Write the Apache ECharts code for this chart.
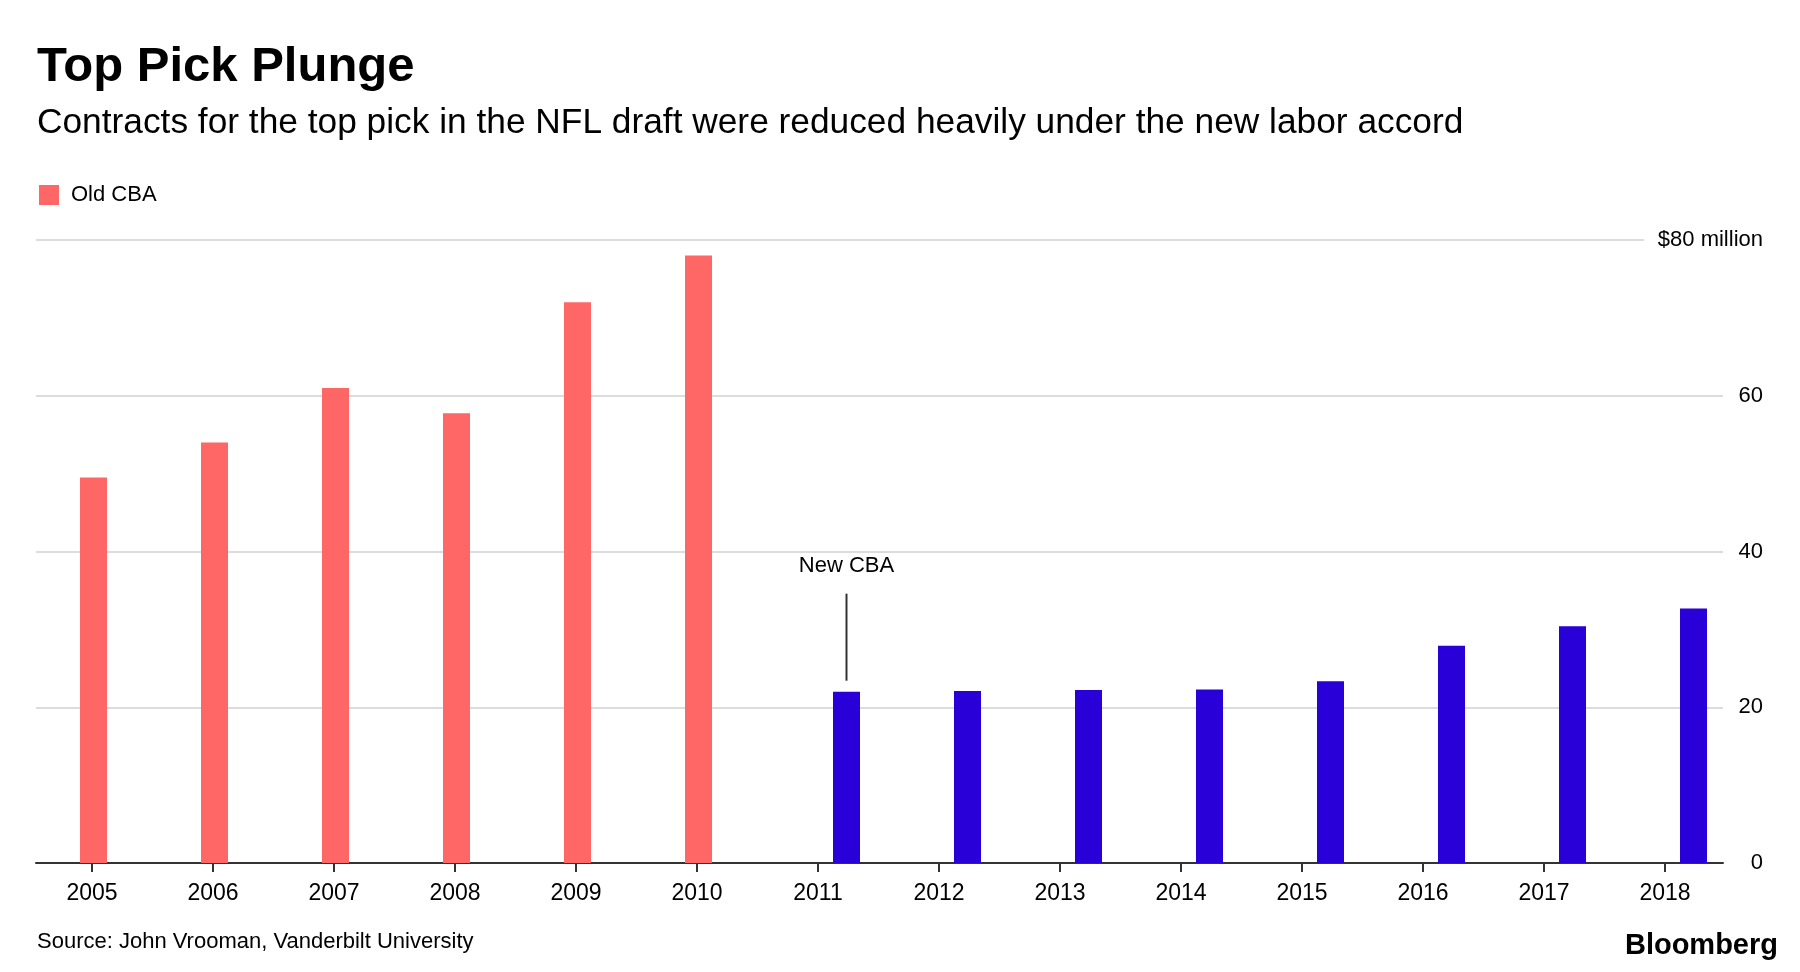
<!DOCTYPE html>
<html>
<head>
<meta charset="utf-8">
<script src="https://cdn.jsdelivr.net/npm/echarts@6/dist/echarts.min.js"></script>
<style>
html,body{margin:0;padding:0;background:#fff;}
#chart{width:1800px;height:972px;}
</style>
</head>
<body>
<div id="chart"></div>
<script>
const years = ['2005','2006','2007','2008','2009','2010','2011','2012','2013','2014','2015','2016','2017','2018'];
const oldCBA = [49.5, 54, 61, 57.75, 72, 78, null, null, null, null, null, null, null, null];
const newCBA = [null, null, null, null, null, null, 22, 22.1, 22.2, 22.27, 23.35, 27.9, 30.4, 32.68];
const yTicks = [0, 20, 40, 60, 80];

const FONT = '"Liberation Sans", Arial, sans-serif';
const RED = '#ff6666';
const BLUE = '#2a00d8';

const newData = newCBA.map((v, i) => {
  if (years[i] === '2011') {
    return {
      value: v,
      label: {
        show: true,
        position: 'top',
        distance: 11,
        formatter: '{t|New CBA}\n{l|}',
        rich: {
          t: {fontSize: 22, lineHeight: 56, color: '#000', fontFamily: FONT, align: 'center'},
          l: {width: 2, height: 87, backgroundColor: '#333', align: 'center'}
        }
      }
    };
  }
  return v;
});

const chart = echarts.init(document.getElementById('chart'), null, {renderer: 'canvas'});
const option = {
  animation: false,
  backgroundColor: '#fff',
  textStyle: {fontFamily: FONT},
  title: [
    {text: 'Top Pick Plunge', left: 37, top: 43, padding: 0,
      textStyle: {fontSize: 49, fontWeight: 'bold', color: '#000', fontFamily: FONT, lineHeight: 49}},
    {text: 'Contracts for the top pick in the NFL draft were reduced heavily under the new labor accord', left: 37, top: 106, padding: 0,
      textStyle: {fontSize: 35.3, fontWeight: 'normal', color: '#000', fontFamily: FONT, lineHeight: 35}},
    {text: 'Source: John Vrooman, Vanderbilt University', left: 37, top: 930, padding: 0,
      textStyle: {fontSize: 22, fontWeight: 'normal', color: '#000', fontFamily: FONT, lineHeight: 23}},
    {text: 'Bloomberg', right: 22, top: 931, padding: 0,
      textStyle: {fontSize: 29, fontWeight: 'bold', color: '#000', fontFamily: FONT, lineHeight: 30}}
  ],
  legend: {
    data: ['Old CBA'],
    left: 39, top: 184, padding: 0,
    icon: 'rect', itemWidth: 20, itemHeight: 20,
    textStyle: {fontSize: 22, color: '#000', fontFamily: FONT, padding: [0, 0, 0, 7]}
  },
  grid: [
    {left: 46.5, right: 59.5, top: 240, bottom: 109},
    {left: 36, right: 77, top: 240, bottom: 109},
    {left: 31.5, right: 74.5, top: 240, bottom: 109}
  ],
  xAxis: [
    {gridIndex: 0, type: 'category', data: years, show: false},
    {gridIndex: 1, type: 'category', data: years,
      axisLine: {show: true, lineStyle: {color: '#333', width: 2}},
      axisTick: {show: false}, axisLabel: {show: false}, splitLine: {show: false}},
    {gridIndex: 2, type: 'category', data: years,
      axisLine: {show: false},
      axisTick: {show: true, alignWithLabel: true, length: 9, lineStyle: {color: '#333', width: 2}},
      axisLabel: {margin: 19, fontSize: 23, color: '#000', fontFamily: FONT}}
  ],
  yAxis: [
    {gridIndex: 0, type: 'value', min: 0, max: 80, interval: 20, show: false},
    {gridIndex: 1, type: 'value', position: 'right', min: 0, max: 80, interval: 20,
      axisLine: {show: false}, axisTick: {show: false},
      splitLine: {show: true, lineStyle: {color: '#dcdcdc', width: 2}},
      axisLabel: {
        margin: 40, align: 'right', fontSize: 22, color: '#000', fontFamily: FONT,
        formatter: v => v === yTicks[yTicks.length - 1] ? '{a|$' + v + ' million}' : String(v),
        rich: {a: {fontSize: 22, color: '#000', fontFamily: FONT, backgroundColor: '#fff', padding: [3, 0, 3, 14]}}
      }},
    {gridIndex: 2, type: 'value', show: false}
  ],
  series: [
    {name: 'Old CBA', type: 'bar', xAxisIndex: 0, yAxisIndex: 0, data: oldCBA,
      barWidth: 27, barGap: '0%', itemStyle: {color: RED}},
    {name: 'New CBA', type: 'bar', xAxisIndex: 0, yAxisIndex: 0, data: newData,
      barWidth: 27, barGap: '0%', itemStyle: {color: BLUE}}
  ]
};
chart.setOption(option);
</script>
</body>
</html>
